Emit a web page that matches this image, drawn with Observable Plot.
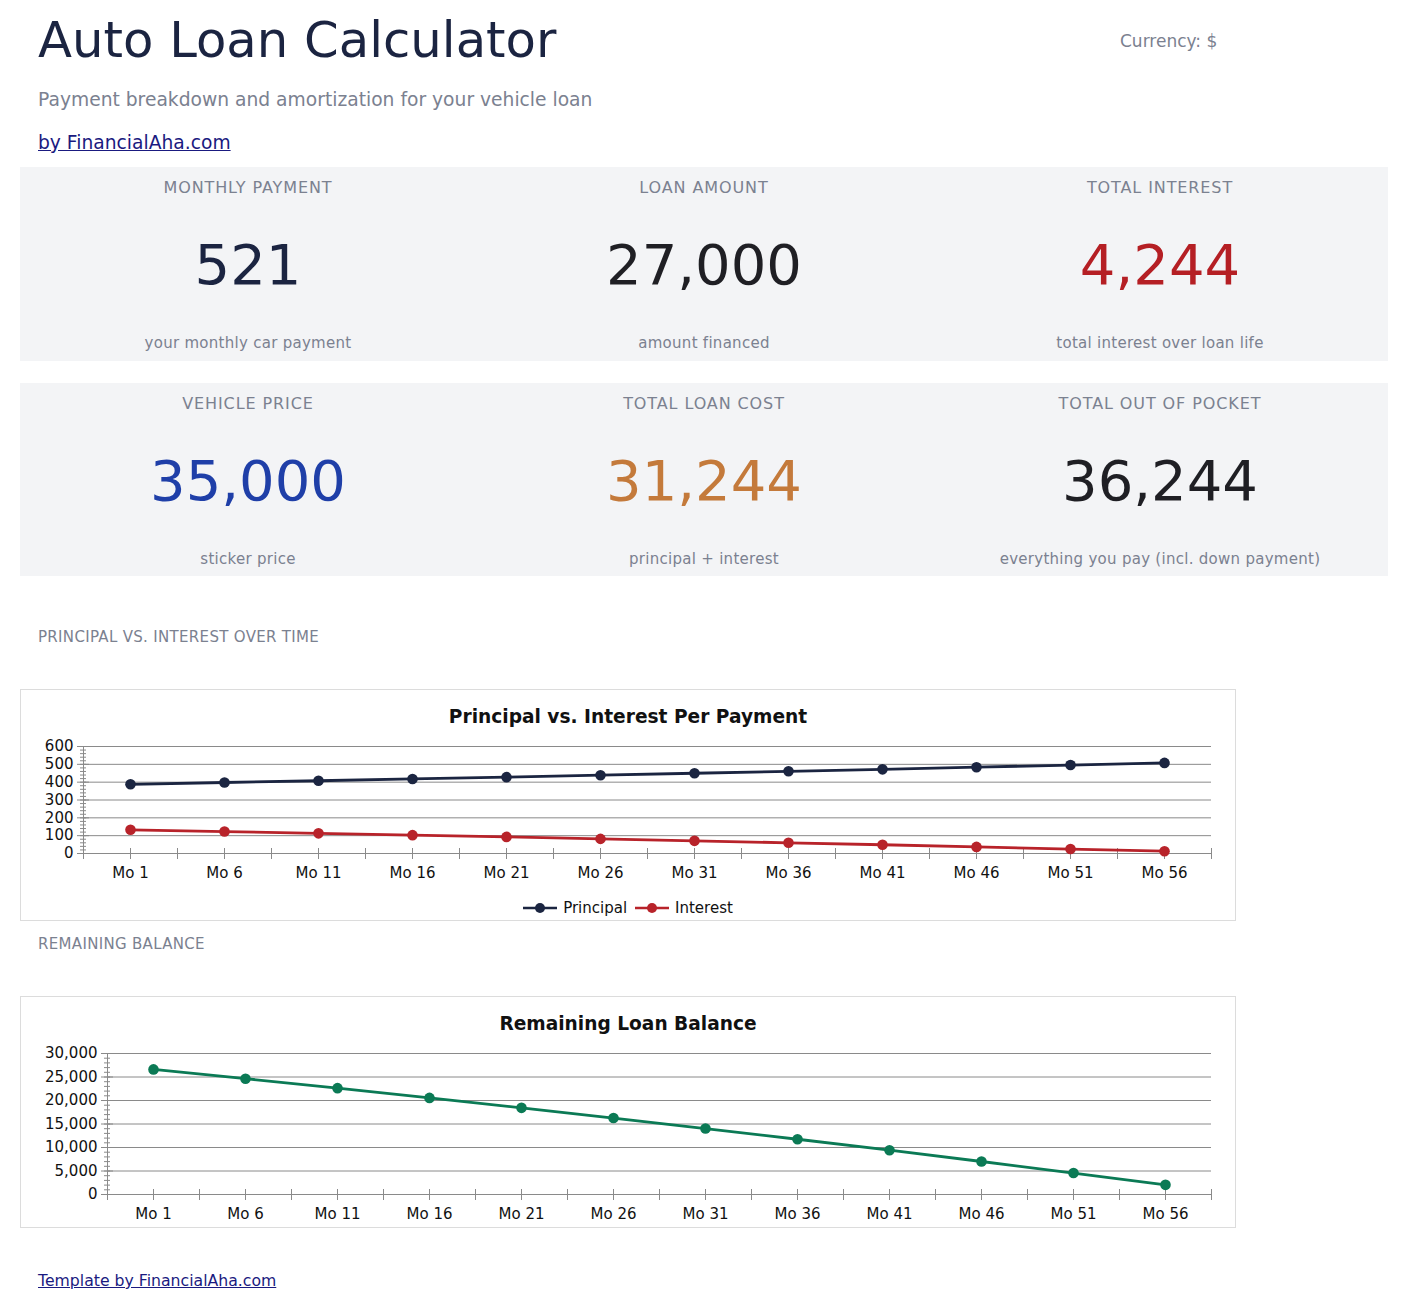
<!DOCTYPE html>
<html>
<head>
<meta charset="utf-8">
<script src="https://cdn.jsdelivr.net/npm/d3@7"></script>
<script src="https://cdn.jsdelivr.net/npm/@observablehq/plot@0.6"></script>
<style>
  html, body { margin: 0; padding: 0; background: #fff; }
  body { font-family: "DejaVu Sans", sans-serif; width: 1408px; height: 1311px; position: relative; overflow: hidden; }
  .abs { position: absolute; white-space: nowrap; }
  .title { left: 38px; top: 10px; font-size: 49.7px; line-height: 60px; color: #1b2441; }
  .currency { left: 1120px; top: 31px; font-size: 17px; line-height: 20px; color: #7b8190; }
  .subtitle { left: 38px; top: 89px; font-size: 18.7px; line-height: 22px; color: #7b8190; }
  .link { left: 38px; top: 132px; font-size: 18.7px; line-height: 22px; color: #1a1a80; text-decoration: underline; }
  .kpi { position: absolute; left: 20px; width: 1368px; background: #f3f4f6; }
  .klabel { position: absolute; width: 456px; text-align: center; font-size: 16px; line-height: 20px; color: #7b8190; letter-spacing: 0.9px; }
  .kval { position: absolute; width: 456px; text-align: center; font-size: 56px; line-height: 66px; }
  .ksub { position: absolute; width: 456px; text-align: center; font-size: 15px; line-height: 20px; color: #7b8190; letter-spacing: 0.28px; }
  .section { left: 38px; font-size: 15px; line-height: 20px; color: #7b8190; letter-spacing: 0.32px; }
  .chartbox { position: absolute; left: 20px; width: 1214px; height: 230px; border: 1px solid #dcdcdc; background: #fff; }
  .ctitle { position: absolute; left: 0; width: 1214px; text-align: center; top: 16px; font-size: 18.6px; line-height: 22px; font-weight: bold; color: #111; }
  .plot { position: absolute; left: 0; top: 46px; }
  .legend { position: absolute; left: 0; width: 1214px; top: 208px; text-align: center; font-size: 15px; line-height: 20px; color: #111; }
  .legend span.item { display: inline-flex; align-items: center; margin: 0 4px; }
  .legend svg { margin-right: 6px; }
  .footer { left: 38px; top: 1271px; font-size: 15.7px; line-height: 20px; color: #1a1a80; text-decoration: underline; }
</style>
</head>
<body>
<script>
// ---- Data ----
const monthLabels = ["Mo 1","Mo 6","Mo 11","Mo 16","Mo 21","Mo 26","Mo 31","Mo 36","Mo 41","Mo 46","Mo 51","Mo 56"];
const principal = [388, 398, 408, 418, 428, 439, 450, 461, 472, 484, 496, 508];
const interest  = [133, 123, 113, 103, 93, 82, 71, 60, 49, 37, 25, 13];
const balance   = [26612, 24643, 22625, 20557, 18437, 16265, 14039, 11758, 9420, 7024, 4569, 2053];

const kpiLabels = ["MONTHLY PAYMENT", "LOAN AMOUNT", "TOTAL INTEREST", "VEHICLE PRICE", "TOTAL LOAN COST", "TOTAL OUT OF POCKET"];
const kpiValues = ["521", "27,000", "4,244", "35,000", "31,244", "36,244"];
const kpiSubs   = ["your monthly car payment", "amount financed", "total interest over loan life", "sticker price", "principal + interest", "everything you pay (incl. down payment)"];
const kpiColors = ["#1b2441", "#1f1f24", "#b51f24", "#1f3fa8", "#c47a3b", "#1f1f24"];

const seriesNames = ["Principal", "Interest"];
const seriesColors = ["#1b2541", "#b8232a"];
const balanceColor = "#0b7a55";

// ---- Header ----
function addDiv(cls, text, style) {
  const d = document.createElement("div");
  d.className = cls;
  d.textContent = text;
  if (style) Object.assign(d.style, style);
  document.body.appendChild(d);
  return d;
}
addDiv("abs title", "Auto Loan Calculator");
addDiv("abs currency", "Currency: $");
addDiv("abs subtitle", "Payment breakdown and amortization for your vehicle loan");
addDiv("abs link", "by FinancialAha.com");

// ---- KPI panels ----
const panelTops = [167, 383];
const panelHeights = [194, 193];
panelTops.forEach((top, p) => {
  const box = document.createElement("div");
  box.className = "kpi";
  box.style.top = top + "px";
  box.style.height = panelHeights[p] + "px";
  for (let c = 0; c < 3; c++) {
    const k = p * 3 + c;
    const left = c * 456 + "px";
    const l = document.createElement("div"); l.className = "klabel"; l.textContent = kpiLabels[k];
    l.style.left = left; l.style.top = "11px"; box.appendChild(l);
    const v = document.createElement("div"); v.className = "kval"; v.textContent = kpiValues[k];
    v.style.left = left; v.style.top = "65px"; v.style.color = kpiColors[k]; box.appendChild(v);
    const s = document.createElement("div"); s.className = "ksub"; s.textContent = kpiSubs[k];
    s.style.left = left; s.style.top = "166px"; box.appendChild(s);
  }
  document.body.appendChild(box);
});

// ---- Section labels ----
addDiv("abs section", "PRINCIPAL VS. INTEREST OVER TIME", {top: "627px"});
addDiv("abs section", "REMAINING BALANCE", {top: "934px"});

const axisColor = "#8a8a8a";
const fontStyle = {fontFamily: "DejaVu Sans, sans-serif", fontSize: "15px", color: "#111", background: "transparent", overflow: "visible"};

// ---- Chart 1 ----
const rows = monthLabels.map((m, i) => ({i, label: m, principal: principal[i], interest: interest[i], balance: balance[i]}));
const long = rows.flatMap(r => seriesNames.map((s, j) => ({i: r.i, series: s, value: j === 0 ? r.principal : r.interest})));

const box1 = document.createElement("div");
box1.className = "chartbox"; box1.style.top = "689px";
const t1 = document.createElement("div"); t1.className = "ctitle"; t1.textContent = "Principal vs. Interest Per Payment";
box1.appendChild(t1);

const halfTicks = d3.range(-0.5, 12, 0.5);
const plot1 = Plot.plot({
  width: 1214, height: 149,
  marginLeft: 62, marginRight: 24, marginTop: 10, marginBottom: 32,
  style: fontStyle,
  x: {type: "linear", domain: [-0.5, 11.5], axis: null},
  y: {domain: [0, 600], axis: null},
  color: {domain: seriesNames, range: seriesColors},
  marks: [
    Plot.gridY([100, 200, 300, 400, 500, 600], {stroke: axisColor, strokeOpacity: 1}),
    Plot.ruleY([0], {stroke: axisColor}),
    Plot.ruleX([-0.5], {stroke: axisColor}),
    Plot.axisY(d3.range(0, 601, 20), {tickSize: 6, dx: 3, tickFormat: () => "", stroke: axisColor, label: null}),
    Plot.axisY(d3.range(0, 601, 100), {tickSize: 12, dx: 6, tickFormat: () => "", stroke: axisColor, label: null}),
    Plot.axisY(d3.range(0, 601, 100), {tickSize: 0, tickPadding: 10, fontSize: 15, fill: "#111", label: null}),
    Plot.axisX(halfTicks, {tickSize: 11, dy: -5, tickFormat: () => "", stroke: axisColor, label: null}),
    Plot.axisX(d3.range(12), {tickSize: 0, tickPadding: 14, tickFormat: i => monthLabels[i], fontSize: 15, fill: "#111", label: null}),
    Plot.line(long, {x: "i", y: "value", z: "series", stroke: "series", strokeWidth: 2.8}),
    Plot.dot(long, {x: "i", y: "value", fill: "series", r: 5.3})
  ]
});
plot1.classList.add("plot");
box1.appendChild(plot1);

const legend = document.createElement("div");
legend.className = "legend";
seriesNames.forEach((s, j) => {
  const item = document.createElement("span");
  item.className = "item";
  item.innerHTML = `<svg width="34" height="12"><line x1="0" y1="6" x2="34" y2="6" stroke="${seriesColors[j]}" stroke-width="2.6"/><circle cx="17" cy="6" r="5" fill="${seriesColors[j]}"/></svg>`;
  const tx = document.createElement("span"); tx.textContent = s; item.appendChild(tx);
  legend.appendChild(item);
});
box1.appendChild(legend);
document.body.appendChild(box1);

// ---- Chart 2 ----
const box2 = document.createElement("div");
box2.className = "chartbox"; box2.style.top = "996px";
const t2 = document.createElement("div"); t2.className = "ctitle"; t2.textContent = "Remaining Loan Balance";
box2.appendChild(t2);

const plot2 = Plot.plot({
  width: 1214, height: 183,
  marginLeft: 86, marginRight: 24, marginTop: 10, marginBottom: 32,
  style: fontStyle,
  x: {type: "linear", domain: [-0.5, 11.5], axis: null},
  y: {domain: [0, 30000], axis: null},
  marks: [
    Plot.gridY(d3.range(5000, 30001, 5000), {stroke: axisColor, strokeOpacity: 1}),
    Plot.ruleY([0], {stroke: axisColor}),
    Plot.ruleX([-0.5], {stroke: axisColor}),
    Plot.axisY(d3.range(0, 30001, 1000), {tickSize: 6, dx: 3, tickFormat: () => "", stroke: axisColor, label: null}),
    Plot.axisY(d3.range(0, 30001, 5000), {tickSize: 12, dx: 6, tickFormat: () => "", stroke: axisColor, label: null}),
    Plot.axisY(d3.range(0, 30001, 5000), {tickSize: 0, tickPadding: 10, tickFormat: d3.format(","), fontSize: 15, fill: "#111", label: null}),
    Plot.axisX(halfTicks, {tickSize: 11, dy: -5, tickFormat: () => "", stroke: axisColor, label: null}),
    Plot.axisX(d3.range(12), {tickSize: 0, tickPadding: 14, tickFormat: i => monthLabels[i], fontSize: 15, fill: "#111", label: null}),
    Plot.line(rows, {x: "i", y: "balance", stroke: balanceColor, strokeWidth: 2.8}),
    Plot.dot(rows, {x: "i", y: "balance", fill: balanceColor, r: 5.3})
  ]
});
plot2.classList.add("plot");
box2.appendChild(plot2);
document.body.appendChild(box2);

addDiv("abs footer", "Template by FinancialAha.com");
</script>
</body>
</html>
